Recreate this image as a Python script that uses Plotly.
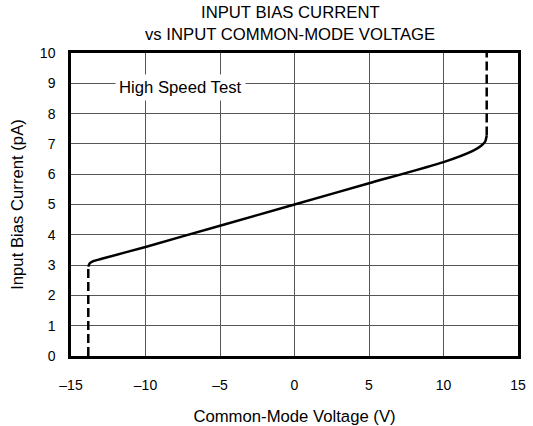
import plotly.graph_objects as go

# Data
solid_x = [-13.84, -13.74, -13.5, -13.0, -10.0, -5.0, 0.0, 5.0, 10.0, 12.0, 12.55, 12.8, 12.9]
solid_y = [2.95, 3.06, 3.13, 3.2, 3.6, 4.3, 5.0, 5.7, 6.4, 6.78, 6.95, 7.08, 7.28]
dash_left_x = [-13.84, -13.84]
dash_left_y = [0.0, 2.95]
dash_right_x = [12.9, 12.9]
dash_right_y = [7.28, 10.0]

x_ticks = [-15, -10, -5, 0, 5, 10, 15]
x_tick_text = ["\u201315", "\u201310", "\u20135", "0", "5", "10", "15"]
y_ticks = list(range(0, 11))

title_lines = ["INPUT BIAS CURRENT", "vs INPUT COMMON-MODE VOLTAGE"]
label_text = "High Speed Test"

font_family = "Liberation Sans, Arial, sans-serif"
big = 16.7

fig = go.Figure()
fig.add_trace(go.Scatter(x=solid_x, y=solid_y, mode="lines",
                         line=dict(color="black", width=2.5, shape="spline", smoothing=0.6),
                         showlegend=False, hoverinfo="skip"))
fig.add_trace(go.Scatter(x=dash_left_x, y=dash_left_y, mode="lines",
                         line=dict(color="black", width=2.5, dash="9px,4px"),
                         showlegend=False, hoverinfo="skip"))
fig.add_trace(go.Scatter(x=dash_right_x, y=dash_right_y, mode="lines",
                         line=dict(color="black", width=2.5, dash="9px,4px"),
                         showlegend=False, hoverinfo="skip"))

fig.add_annotation(x=-7.68, y=8.86, text=label_text, showarrow=False,
                   font=dict(family=font_family, size=big, color="black"),
                   bgcolor="white", borderpad=3)

# Title lines (plot area spans y px 53..356 => 303 px tall)
fig.add_annotation(xref="paper", yref="paper", x=0.49, y=(356 - 13) / 303,
                   text=title_lines[0], showarrow=False, xanchor="center", yanchor="middle",
                   font=dict(family=font_family, size=big, color="black"))
fig.add_annotation(xref="paper", yref="paper", x=0.49, y=(356 - 35) / 303,
                   text=title_lines[1], showarrow=False, xanchor="center", yanchor="middle",
                   font=dict(family=font_family, size=big, color="black"))

fig.update_layout(
    width=533, height=426,
    margin=dict(l=71, r=15, t=53, b=70, autoexpand=False),
    paper_bgcolor="white", plot_bgcolor="white",
    font=dict(family=font_family, size=14, color="black"),
)
fig.update_xaxes(range=[-15, 15], tickvals=x_ticks, ticktext=x_tick_text,
                 automargin=False,
                 showgrid=True, gridcolor="#555", gridwidth=1,
                 showline=True, linecolor="black", linewidth=2.5, mirror=True,
                 ticks="", zeroline=False, ticklabelstandoff=14,
                 tickfont=dict(family=font_family, size=14),
                 title=dict(text="Common-Mode Voltage (V)", standoff=21,
                            font=dict(family=font_family, size=big)))
fig.update_yaxes(range=[0, 10], tickvals=y_ticks,
                 automargin=False,
                 showgrid=True, gridcolor="#555", gridwidth=1,
                 showline=True, linecolor="black", linewidth=2.5, mirror=True,
                 ticks="", zeroline=False, ticklabelstandoff=10,
                 tickfont=dict(family=font_family, size=14),
                 title=dict(text="Input Bias Current (pA)", standoff=13,
                            font=dict(family=font_family, size=big)))

fig.write_html("out.html", config={"displayModeBar": False},
               post_script="document.body.style.margin='0';")
